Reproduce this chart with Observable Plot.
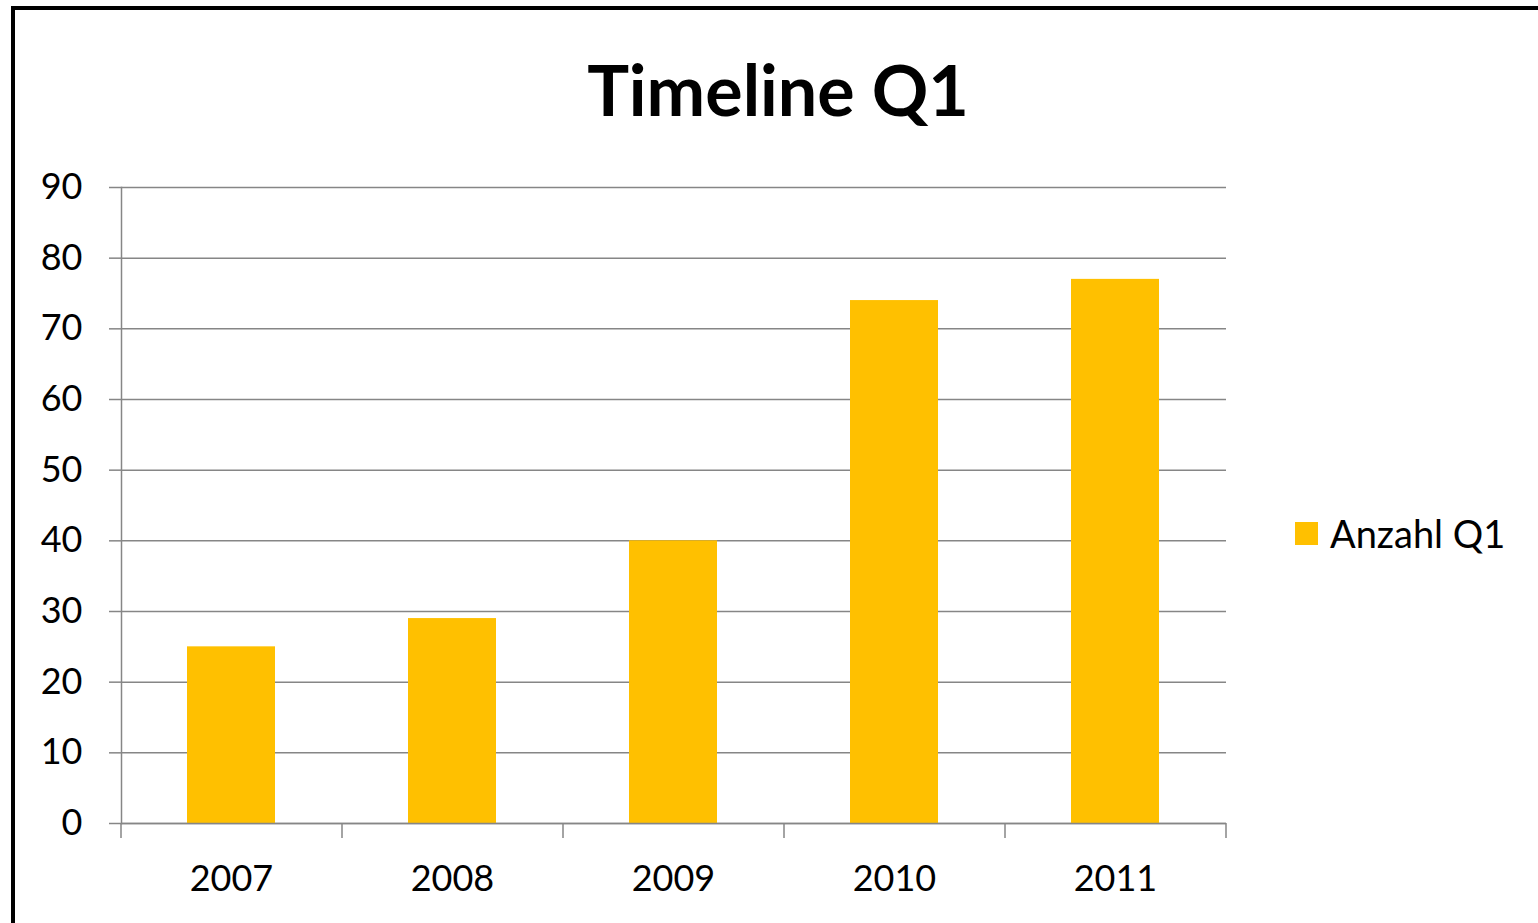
<!DOCTYPE html>
<html>
<head>
<meta charset="utf-8">
<script src="https://cdn.jsdelivr.net/npm/d3@7"></script>
<script src="https://cdn.jsdelivr.net/npm/@observablehq/plot@0.6"></script>
<style>
  html, body { margin: 0; padding: 0; background: #fff; }
  #wrap { position: relative; width: 1538px; height: 923px; overflow: hidden; font-family: Lato, "Open Sans", sans-serif; }
  #frame { position: absolute; left: 11px; top: 6px; width: 1600px; height: 1000px; border-left: 4px solid #000; border-top: 4px solid #000; box-sizing: border-box; }
  #title { position: absolute; left: 0; width: 1556px; top: 54px; text-align: center; font-size: 70px; font-weight: 700; color: #000; line-height: 1; }
  #legend { position: absolute; left: 1295px; top: 514px; font-size: 38px; color: #000; display: flex; align-items: center; line-height: 1; }
  #legend .sw { width: 23px; height: 23px; background: #FFC000; margin-right: 12px; }
  #chart { position: absolute; left: 0; top: 0; }
</style>
</head>
<body>
<div id="wrap">
  <div id="frame"></div>
  <div id="chart"></div>
  <div id="title">Timeline Q1</div>
  <div id="legend"><span class="sw"></span><span>Anzahl Q1</span></div>
</div>
<script>
const years = ["2007", "2008", "2009", "2010", "2011"];
const anzahlQ1 = [25, 29, 40, 74, 77];
const yTicks = [0, 10, 20, 30, 40, 50, 60, 70, 80, 90];

const data = years.map((y, i) => ({year: y, value: anzahlQ1[i]}));

const W = 1538, H = 923;
const mL = 121, mR = 312, mT = 187, mB = 100;
const step = (W - mL - mR) / years.length;
const grid = "#868686";

const chart = Plot.plot({
  width: W,
  height: H,
  marginLeft: mL,
  marginRight: mR,
  marginTop: mT,
  marginBottom: mB,
  style: {background: "transparent", fontFamily: "Lato, 'Open Sans', sans-serif", fontSize: "36px", color: "#000"},
  x: {domain: years, paddingInner: 0.6, paddingOuter: 0.3, axis: null},
  y: {domain: [0, 90], axis: null},
  marks: [
    Plot.ruleY(yTicks, {stroke: grid, strokeWidth: 1.5}),
    Plot.barY(data, {x: "year", y: "value", fill: "#FFC000"}),
    Plot.frame({anchor: "left", stroke: grid, strokeWidth: 1.5}),
    Plot.ruleY([0], {stroke: grid, strokeWidth: 1.5}),
    // category boundary ticks below the x axis
    Plot.ruleX(years, {x: d => d, y1: 0, y2: 0, dx: -step / 2, insetBottom: -15, stroke: grid, strokeWidth: 1.5}),
    Plot.ruleX(years.slice(-1), {x: d => d, y1: 0, y2: 0, dx: step / 2, insetBottom: -15, stroke: grid, strokeWidth: 1.5}),
    Plot.axisY({ticks: yTicks, tickSize: 12, tickPadding: 27, stroke: grid, strokeWidth: 1.5, strokeOpacity: 1, fill: "#000", fontSize: 36, anchor: "left", label: null}),
    Plot.axisX({tickSize: 0, tickPadding: 42, fill: "#000", fontSize: 36, anchor: "bottom", label: null})
  ]
});
document.getElementById("chart").appendChild(chart);
</script>
</body>
</html>
